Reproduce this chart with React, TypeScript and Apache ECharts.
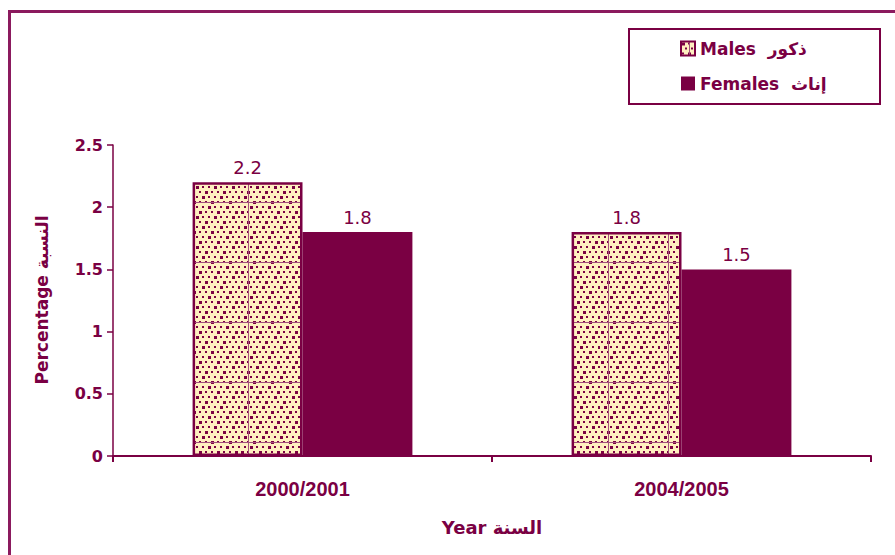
import React, { useEffect, useRef } from "react";
import * as echarts from "echarts";

const categories = ["2000/2001", "2004/2005"];
const males = [2.2, 1.8];
const females = [1.8, 1.5];
const maleName = "Males\u00a0\u00a0ذكور";
const femaleName = "Females\u00a0\u00a0إناث";
const yAxisTitle = "Percentage النسبة";
const xAxisTitle = "Year السنة";

const MAROON = "#7a0043";
const ARIAL = "Arial, 'Liberation Sans', sans-serif";
const DEJAVU = "'DejaVu Sans', Arial, sans-serif";

function makePattern(): HTMLCanvasElement {
  const c = document.createElement("canvas");
  c.width = 60;
  c.height = 60;
  const g = c.getContext("2d")!;
  g.fillStyle = "#ffefc0";
  g.fillRect(0, 0, 60, 60);
  g.fillStyle = MAROON;
  for (let r = 0; r < 12; r++) {
    const y = r * 5 + 1;
    const off = (r % 2) * 3;
    for (let i = 0; i < 10; i++) {
      const x = off + i * 6;
      const big = (i + r) % 3 === 0;
      g.fillRect(x + 1, y, big ? 3 : 2, big ? 3 : 2);
    }
  }
  g.fillStyle = "#a2507c";
  g.fillRect(8, 0, 1, 60);
  g.fillRect(0, 22, 60, 1);
  return c;
}

export default function App() {
  const ref = useRef<HTMLDivElement>(null);
  useEffect(() => {
    if (!ref.current) return;
    const chart = echarts.init(ref.current, null, { renderer: "svg" });
    const pat = makePattern();
    chart.setOption({
      animation: false,
      backgroundColor: "#ffffff",
      textStyle: { fontFamily: DEJAVU },
      grid: { left: 113, top: 145, width: 758, height: 311, containLabel: false },
      legend: {
        orient: "vertical",
        left: 680,
        top: 40,
        padding: 0,
        itemWidth: 14,
        itemHeight: 14,
        itemGap: 18,
        icon: "rect",
        textStyle: { color: MAROON, fontSize: 17, fontWeight: "bold", fontFamily: DEJAVU },
        data: [maleName, femaleName],
      },
      xAxis: {
        type: "category",
        data: categories,
        axisLine: { lineStyle: { color: MAROON, width: 2 } },
        axisTick: { show: true, length: 6, lineStyle: { color: MAROON, width: 2 } },
        axisLabel: { color: MAROON, fontSize: 20, fontWeight: "bold", margin: 23, fontFamily: ARIAL },
        splitLine: { show: false },
      },
      yAxis: {
        type: "value",
        min: 0,
        max: 2.5,
        interval: 0.5,
        axisLine: { show: true, lineStyle: { color: MAROON, width: 1.5 } },
        axisTick: { show: true, length: 6, lineStyle: { color: MAROON, width: 1.5 } },
        axisLabel: { color: MAROON, fontSize: 16, fontWeight: "bold", margin: 10, fontFamily: DEJAVU },
        splitLine: { show: false },
      },
      series: [
        {
          name: maleName,
          type: "bar",
          data: males,
          barGap: "0%",
          barCategoryGap: "42%",
          itemStyle: {
            color: { image: pat, repeat: "repeat", imageWidth: 60, imageHeight: 60 } as any,
            borderColor: MAROON,
            borderWidth: 2.5,
          },
          label: { show: true, position: "top", color: MAROON, fontSize: 18, fontFamily: DEJAVU, distance: 6 },
        },
        {
          name: femaleName,
          type: "bar",
          data: females,
          itemStyle: { color: MAROON },
          label: { show: true, position: "top", color: MAROON, fontSize: 18, fontFamily: DEJAVU, distance: 6 },
        },
      ],
      graphic: [
        {
          type: "rect",
          shape: { x: 9.5, y: 11.5, width: 1000, height: 1000 },
          style: { fill: "none", stroke: "#8b1a5e", lineWidth: 3 },
          silent: true,
        },
        {
          type: "rect",
          shape: { x: 629, y: 29, width: 251, height: 75 },
          style: { fill: "none", stroke: MAROON, lineWidth: 2 },
          silent: true,
        },
        {
          type: "text",
          x: 42,
          y: 300,
          rotation: Math.PI / 2,
          style: {
            text: yAxisTitle,
            fill: MAROON,
            font: `bold 17px ${DEJAVU}`,
            textAlign: "center",
            textVerticalAlign: "middle",
          },
        },
        {
          type: "text",
          x: 492,
          y: 527,
          style: {
            text: xAxisTitle,
            fill: MAROON,
            font: `bold 18px ${DEJAVU}`,
            textAlign: "center",
            textVerticalAlign: "middle",
          },
        },
      ],
    });
    return () => chart.dispose();
  }, []);
  return (
    <div
      ref={ref}
      style={{ position: "absolute", left: 0, top: 0, width: 895, height: 555 }}
    />
  );
}
